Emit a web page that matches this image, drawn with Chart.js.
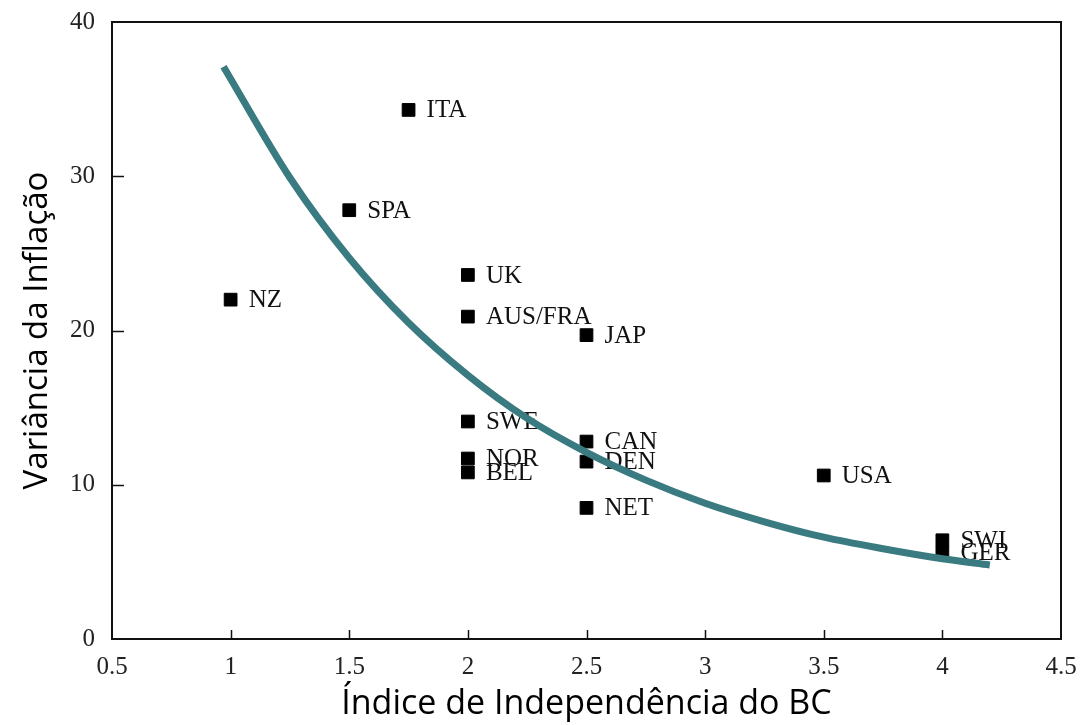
<!DOCTYPE html>
<html>

<head>
    <meta charset="utf-8">
    <script src="https://cdn.jsdelivr.net/npm/chart.js"></script>
    <style>
        html, body { margin: 0; padding: 0; background: #fff; }
        #chartBox { width: 1084px; height: 725px; }
    </style>
</head>

<body>
    <div id="chartBox">
        <canvas id="myChart"></canvas>
    </div>

    <script>
        // countries: independence index vs inflation variance
        const countries = ['NZ', 'SPA', 'ITA', 'UK', 'AUS/FRA', 'SWE', 'NOR', 'BEL', 'JAP', 'CAN', 'DEN', 'NET', 'USA', 'SWI', 'GER'];
        const independence = [1, 1.5, 1.75, 2, 2, 2, 2, 2, 2.5, 2.5, 2.5, 2.5, 3.5, 4, 4];
        const inflationVar = [22, 27.8, 34.3, 23.6, 20.9, 14.1, 11.7, 10.8, 19.7, 12.8, 11.5, 8.5, 10.6, 6.4, 5.6];

        // hand-drawn trend curve
        const trendX = [0.97, 1.25, 1.5, 1.75, 2, 2.25, 2.5, 2.75, 3, 3.25, 3.5, 3.75, 4, 4.2];
        const trendY = [37.1, 29.9, 24.7, 20.5, 17.1, 14.3, 12.1, 10.3, 8.8, 7.6, 6.6, 5.85, 5.2, 4.8];

        const xTicks = [0.5, 1, 1.5, 2, 2.5, 3, 3.5, 4, 4.5];
        const yTicks = [0, 10, 20, 30, 40];

        const serif = '"Liberation Serif", "DejaVu Serif", serif';
        const sans = '"Open Sans", "Noto Sans", sans-serif';

        // frame around the plot plus inward tick marks
        const framePlugin = {
            id: 'frame',
            afterDraw(chart) {
                const { ctx, chartArea: a, scales } = chart;
                ctx.save();
                ctx.strokeStyle = '#111';
                ctx.lineWidth = 2;
                ctx.strokeRect(a.left, a.top, a.right - a.left, a.bottom - a.top);
                ctx.lineWidth = 1.5;
                ctx.beginPath();
                xTicks.slice(1, -1).forEach(v => {
                    const px = Math.round(scales.x.getPixelForValue(v)) + 0.5;
                    ctx.moveTo(px, a.bottom);
                    ctx.lineTo(px, a.bottom - 9);
                });
                yTicks.slice(1, -1).forEach(v => {
                    const py = Math.round(scales.y.getPixelForValue(v)) + 0.5;
                    ctx.moveTo(a.left, py);
                    ctx.lineTo(a.left + 12, py);
                });
                ctx.stroke();
                ctx.restore();
            }
        };

        // country names next to each square
        const labelPlugin = {
            id: 'countryLabels',
            afterDatasetDraw(chart, args) {
                if (args.index !== 1) return;
                const ctx = chart.ctx;
                ctx.save();
                ctx.font = '25px ' + serif;
                ctx.fillStyle = '#111';
                ctx.textBaseline = 'middle';
                args.meta.data.forEach((pt, i) => {
                    ctx.fillText(countries[i], pt.x + 18, pt.y + 1);
                });
                ctx.restore();
            }
        };

        const ctx = document.getElementById('myChart');

        new Chart(ctx, {
            type: 'scatter',
            data: {
                datasets: [{
                    label: 'trend',
                    type: 'line',
                    data: trendX.map((x, i) => ({ x: x, y: trendY[i] })),
                    borderColor: '#3a7b82',
                    borderWidth: 7,
                    pointRadius: 0,
                    cubicInterpolationMode: 'monotone',
                    fill: false,
                    order: 0
                }, {
                    label: 'countries',
                    data: independence.map((x, i) => ({ x: x, y: inflationVar[i] })),
                    pointStyle: 'rect',
                    pointRadius: 9,
                    pointBackgroundColor: '#000',
                    pointBorderColor: '#000',
                    pointBorderWidth: 1,
                    order: 1
                }]
            },
            options: {
                responsive: true,
                maintainAspectRatio: false,
                animation: false,
                layout: { padding: { top: 22, right: 23, left: 0, bottom: 0 } },
                plugins: {
                    legend: { display: false },
                    tooltip: { enabled: false }
                },
                scales: {
                    x: {
                        type: 'linear',
                        min: 0.5,
                        max: 4.5,
                        afterBuildTicks: (s) => { s.ticks = xTicks.map(v => ({ value: v })); },
                        afterFit: (s) => { s.height = 86; },
                        // tickLength only spaces the labels; the marks themselves come from the frame plugin
                        grid: { display: false, drawTicks: true, tickLength: 13 },
                        border: { display: false },
                        ticks: {
                            font: { family: serif, size: 25 },
                            color: '#222',
                            padding: 0,
                            maxRotation: 0,
                            callback: (v) => String(v)
                        },
                        title: {
                            display: true,
                            text: 'Índice de Independência do BC',
                            font: { family: sans, size: 34 },
                            color: '#000',
                            padding: 0
                        }
                    },
                    y: {
                        type: 'linear',
                        min: 0,
                        max: 40,
                        afterBuildTicks: (s) => { s.ticks = yTicks.map(v => ({ value: v })); },
                        afterFit: (s) => { s.width = 112; },
                        grid: { display: false, drawTicks: true, tickLength: 17 },
                        border: { display: false },
                        ticks: {
                            font: { family: serif, size: 25 },
                            color: '#222',
                            padding: 0,
                            callback: (v) => String(v)
                        },
                        title: {
                            display: true,
                            text: 'Variância da Inflação',
                            font: { family: sans, size: 33 },
                            color: '#000',
                            padding: { top: 18, bottom: 0 }
                        }
                    }
                }
            },
            plugins: [framePlugin, labelPlugin]
        });
    </script>
</body>

</html>
